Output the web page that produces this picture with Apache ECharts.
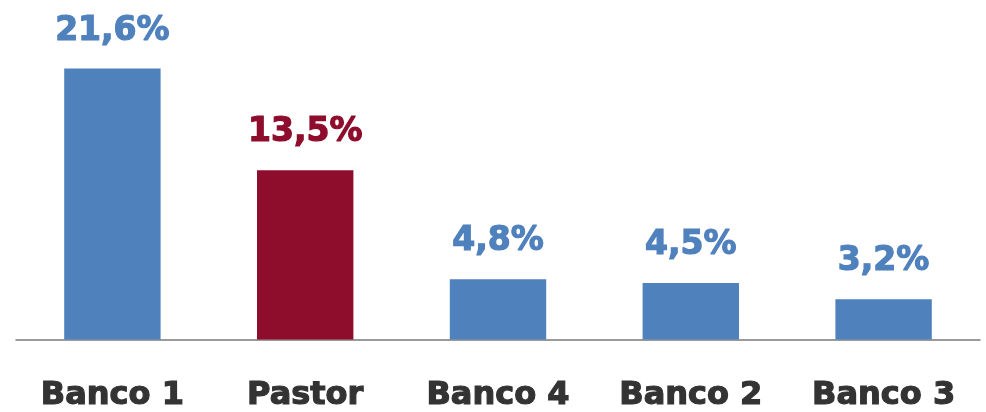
<!DOCTYPE html>
<html>
<head>
<meta charset="utf-8">
<script src="https://cdn.jsdelivr.net/npm/echarts@6/dist/echarts.min.js"></script>
<style>
  html, body { margin: 0; padding: 0; background: #fff; }
  #chart { width: 986px; height: 412px; }
</style>
</head>
<body>
<div id="chart"></div>
<script>
const categories = ['Banco 1', 'Pastor', 'Banco 4', 'Banco 2', 'Banco 3'];
const values = [21.6, 13.5, 4.8, 4.5, 3.2];
const barColors = ['#4F81BD', '#8E0C2C', '#4F81BD', '#4F81BD', '#4F81BD'];

const chart = echarts.init(document.getElementById('chart'));

const option = {
    animation: false,
    grid: { left: 16, right: 6, top: 26, bottom: 70 },
    xAxis: {
        type: 'category',
        data: categories,
        axisLine: { lineStyle: { color: '#7a7a7a', width: 1.5 } },
        axisTick: { show: false },
        axisLabel: {
            color: '#333333',
            fontFamily: 'DejaVu Sans',
            fontWeight: 'bold',
            fontSize: 32,
            margin: 40,
            interval: 0,
            textBorderColor: '#333333',
            textBorderWidth: 1.2
        }
    },
    yAxis: {
        type: 'value',
        min: 0,
        max: 25,
        show: false,
        splitLine: { show: false }
    },
    series: [
        {
            type: 'bar',
            barWidth: '50%',
            data: values.map((v, i) => ({
                value: v,
                itemStyle: { color: barColors[i] },
                label: { color: barColors[i], textBorderColor: barColors[i] }
            })),
            label: {
                show: true,
                position: 'top',
                distance: 21,
                fontFamily: 'DejaVu Sans',
                fontWeight: 'bold',
                fontSize: 33,
                textBorderWidth: 1.2,
                formatter: p => p.value.toFixed(1).replace('.', ',') + '%'
            }
        }
    ]
};

chart.setOption(option);
</script>
</body>
</html>
